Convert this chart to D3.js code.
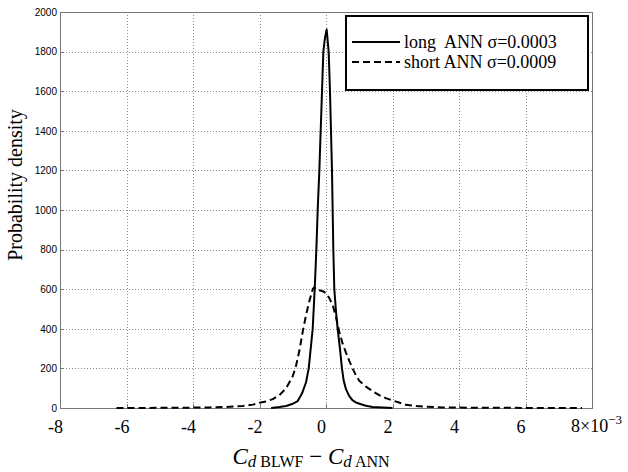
<!DOCTYPE html>
<html>
<head>
<meta charset="utf-8">
<script src="https://cdn.jsdelivr.net/npm/d3@7"></script>
<style>
  body { margin: 0; background: #fff; }
  .grid line { stroke: #8a8a8a; stroke-dasharray: 1, 2; shape-rendering: crispEdges; }
  .axis path, .axis line { stroke: #777; shape-rendering: crispEdges; }
  .serif { font-family: "Liberation Serif", "Times New Roman", serif; fill: #000; }
</style>
</head>
<body>
<div id="chart"></div>
<script>
// values of the difference are in units of 1e-3
const xTicks = [-8, -6, -4, -2, 0, 2, 4, 6, 8];
const yTicks = [0, 200, 400, 600, 800, 1000, 1200, 1400, 1600, 1800, 2000];
const seriesNames = ['long  ANN \u03c3=0.0003', 'short ANN \u03c3=0.0009'];

const longX = [-1.65, -1.4, -1.2, -1.02, -0.85, -0.72, -0.6, -0.52, -0.46, -0.4, -0.34, -0.29, -0.25, -0.2, -0.16, -0.12, -0.08, -0.03, 0.02,
  0.08, 0.12, 0.15, 0.18, 0.2, 0.22, 0.25, 0.3, 0.35, 0.42, 0.48, 0.53, 0.6, 0.7, 0.8, 0.9, 1.03, 1.2, 1.4, 1.7, 2.0];
const longY = [0, 5, 10, 20, 35, 74, 130, 200, 300, 400, 600, 800, 1000, 1200, 1400, 1600, 1800, 1870, 1912,
  1800, 1600, 1400, 1200, 1000, 800, 600, 490, 400, 300, 200, 140, 95, 60, 38, 28, 20, 11, 5, 2, 0];

const shortX = [-6.3, -5.5, -4.5, -3.5, -3.0, -2.5, -2.2, -2.0, -1.8, -1.6, -1.4, -1.2, -1.0, -0.9, -0.8, -0.7, -0.6, -0.5, -0.4, -0.35,
  -0.3, -0.2, -0.1, 0, 0.1, 0.2, 0.3, 0.4, 0.5, 0.6, 0.7, 0.8, 0.9, 1.0, 1.2, 1.4, 1.6, 1.8, 2.0, 2.2, 2.4, 2.7, 3.0, 3.5, 4, 5, 6, 7, 7.7];
const shortY = [0, 0.5, 1, 3, 5, 10, 17, 26, 33, 45, 65, 100, 160, 215, 290, 385, 470, 540, 600, 610,
  600, 595, 590, 580, 555, 520, 460, 385, 325, 280, 238, 200, 165, 138, 108, 85, 65, 50, 38, 28, 16, 10, 7, 3, 2, 1, 0.5, 0.3, 0];

const SERIF = '"Liberation Serif", "Times New Roman", serif';

class DensityChart {
  constructor(_config) {
    this.config = {
      parentElement: _config.parentElement,
      containerWidth: 628,
      containerHeight: 472,
      margin: { top: 12, right: 36, bottom: 64, left: 60 }
    };
    this.initVis();
  }

  initVis() {
    let vis = this;
    vis.width = vis.config.containerWidth - vis.config.margin.left - vis.config.margin.right;
    vis.height = vis.config.containerHeight - vis.config.margin.top - vis.config.margin.bottom;

    vis.xScale = d3.scaleLinear().domain([-8, 8]).range([0, vis.width]);
    vis.yScale = d3.scaleLinear().domain([0, 2000]).range([vis.height, 0]);

    vis.svg = d3.select(vis.config.parentElement).append('svg')
      .attr('width', vis.config.containerWidth)
      .attr('height', vis.config.containerHeight);

    vis.chart = vis.svg.append('g')
      .attr('transform', `translate(${vis.config.margin.left},${vis.config.margin.top})`);

    // grid lines (dotted)
    vis.chart.append('g').attr('class', 'grid')
      .selectAll('line').data(xTicks.slice(1, -1)).join('line')
      .attr('x1', d => Math.round(vis.xScale(d)) + 0.5).attr('x2', d => Math.round(vis.xScale(d)) + 0.5)
      .attr('y1', 0).attr('y2', vis.height);
    vis.chart.append('g').attr('class', 'grid')
      .selectAll('line').data(yTicks.slice(1, -1)).join('line')
      .attr('y1', d => Math.round(vis.yScale(d)) + 0.5).attr('y2', d => Math.round(vis.yScale(d)) + 0.5)
      .attr('x1', 0).attr('x2', vis.width);

    // axes
    vis.xAxis = d3.axisBottom(vis.xScale).tickValues(xTicks).tickSize(-4).tickPadding(10)
      .tickFormat(d => d === 8 ? '' : (d < 0 ? '-' + Math.abs(d) : d));
    vis.yAxis = d3.axisLeft(vis.yScale).tickValues(yTicks).tickSize(-4).tickPadding(3)
      .tickFormat(d3.format('d'));

    vis.xAxisG = vis.chart.append('g').attr('class', 'axis x-axis')
      .attr('transform', `translate(0,${vis.height})`).call(vis.xAxis);
    vis.xAxisG.selectAll('.tick text')
      .attr('dx', -5).attr('dy', '0.85em')
      .attr('fill', '#000')
      .style('font-family', SERIF).style('font-size', '18px');

    vis.yAxisG = vis.chart.append('g').attr('class', 'axis y-axis').call(vis.yAxis);
    vis.yAxisG.selectAll('.tick text')
      .attr('fill', '#000')
      .style('font-family', '"Liberation Sans", Arial, sans-serif').style('font-size', '10px');

    // box top and right
    vis.chart.append('g').attr('class', 'axis').append('path')
      .attr('fill', 'none')
      .attr('d', `M0,0.5H${vis.width}V${vis.height}`);

    // exponent label on the last tick
    let expLabel = vis.chart.append('text').attr('class', 'serif')
      .attr('x', vis.xScale(8) - 21).attr('y', vis.height + 24)
      .style('font-size', '18px');
    expLabel.append('tspan').text('8\u00d710');
    expLabel.append('tspan').attr('dy', -8).style('font-size', '13px').text('\u22123');

    // axis titles
    vis.svg.append('text').attr('class', 'serif')
      .attr('transform', `translate(22,185) rotate(-90)`)
      .style('text-anchor', 'middle').style('font-size', '20px')
      .text('Probability density');

    let xTitle = vis.svg.append('text').attr('class', 'serif')
      .attr('x', 311).attr('y', 464)
      .style('text-anchor', 'middle').style('font-size', '23px');
    xTitle.append('tspan').style('font-style', 'italic').text('C');
    xTitle.append('tspan').attr('dy', 3).style('font-style', 'italic').style('font-size', '17px').text('d');
    xTitle.append('tspan').style('font-size', '16px').text(' BLWF');
    xTitle.append('tspan').attr('dy', -3).text(' \u2212 ');
    xTitle.append('tspan').style('font-style', 'italic').text('C');
    xTitle.append('tspan').attr('dy', 3).style('font-style', 'italic').style('font-size', '17px').text('d');
    xTitle.append('tspan').style('font-size', '16px').text(' ANN');
  }

  renderVis() {
    let vis = this;
    let line = d3.line().x(d => vis.xScale(d[0])).y(d => vis.yScale(d[1]));

    vis.series = [
      { name: seriesNames[0], pts: d3.zip(longX, longY), dash: null },
      { name: seriesNames[1], pts: d3.zip(shortX, shortY), dash: '7,4' }
    ];

    vis.chart.selectAll('.curve').data(vis.series).join('path')
      .attr('class', 'curve')
      .attr('fill', 'none')
      .attr('stroke', '#000')
      .attr('stroke-width', 2)
      .attr('stroke-linejoin', 'round')
      .attr('stroke-dasharray', d => d.dash)
      .attr('d', d => line(d.pts));

    // legend
    let lg = vis.svg.append('g').attr('transform', 'translate(346,16)');
    lg.append('rect').attr('width', 242).attr('height', 74)
      .attr('fill', '#fff').attr('stroke', '#000').attr('stroke-width', 2);
    let items = lg.selectAll('.item').data(vis.series).join('g')
      .attr('class', 'item')
      .attr('transform', (d, i) => `translate(0,${26 + i * 20})`);
    items.append('line').attr('x1', 6).attr('x2', 54)
      .attr('stroke', '#000').attr('stroke-width', 2)
      .attr('stroke-dasharray', d => d.dash);
    items.append('text').attr('class', 'serif')
      .attr('x', 58).attr('dy', '0.35em')
      .style('font-size', '18px').style('white-space', 'pre')
      .text(d => d.name);
  }
}

let chart = new DensityChart({ parentElement: '#chart' });
chart.renderVis();
</script>
</body>
</html>
